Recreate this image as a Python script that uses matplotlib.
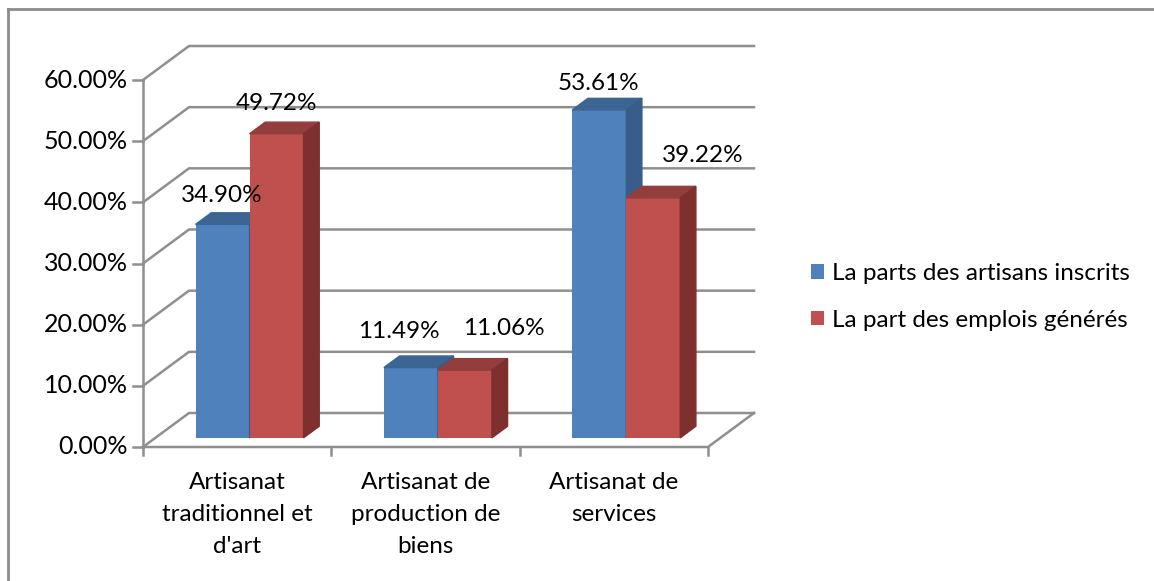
import matplotlib
matplotlib.use("Agg")
import matplotlib.pyplot as plt
from matplotlib.patches import Polygon
from matplotlib.lines import Line2D

# Data
categories = ["Artisanat\ntraditionnel et\nd'art", "Artisanat de\nproduction de\nbiens", "Artisanat de\nservices"]
series_names = ["La parts des artisans inscrits", "La part des emplois générés"]
inscrits = [34.90, 11.49, 53.61]
emplois = [49.72, 11.06, 39.22]
y_ticks = [0, 10, 20, 30, 40, 50, 60]

plt.rcParams['font.family'] = ['Lato', 'DejaVu Sans']
FS = 17.5

W, H = 1154, 581
fig = plt.figure(figsize=(W / 100, H / 100), dpi=100)

# pseudo-3D geometry (pixels)
x0, y0 = 143, 447          # front-left corner of the floor
px_cat = 565 / 3           # pixels per category
px_pct = 367 / 60          # pixels per percent
depth_x, depth_y = 46, 34  # full depth offset
DX = depth_x / px_cat
DY = depth_y / px_pct
f0, f1 = 0.27, 0.61        # bar front / back depth
bar_w = 54 / px_cat

ax = fig.add_axes([x0 / W, (H - y0) / H,
                   (3 * px_cat + depth_x) / W, (60 * px_pct + depth_y) / H])
ax.set_xlim(0, 3 + DX)
ax.set_ylim(0, 60 + DY)
ax.axis('off')

grid_kw = dict(color='#8f8f8f', lw=1.8, clip_on=False, zorder=1)

# walls, gridlines
for v in y_ticks:
    ax.plot([0, DX, 3 + DX], [v, v + DY, v + DY], **grid_kw)
ax.plot([0, 3, 3 + DX], [0, 0, DY], **grid_kw)
ax.plot([0, 0], [0, 60], **grid_kw)

# tick marks
tick_x = 10 / px_cat
for v in y_ticks:
    ax.plot([-tick_x, 0], [v, v], **grid_kw)
    ax.annotate(f"{v:.2f}%", xy=(0, v), xytext=(-15, 0), textcoords='offset pixels',
                ha='right', va='center', fontsize=18, color='black')
for i in range(4):
    ax.plot([i, i], [0, -8 / px_pct], **grid_kw)

for i, lab in enumerate(categories):
    ax.annotate(lab, xy=(i + 0.5, 0), xytext=(0, -25), textcoords='offset pixels',
                ha='center', va='top', fontsize=FS, linespacing=1.66)

# bars
colors = [('#4F81BD', '#3C6594', '#385D8A'), ('#C0504D', '#933E3C', '#7D302E')]
label_dx = [[-1, -12, -1], [0, 39, 49]]
label_dy = [[29, 36, 26], [30, 42, 42]]
dDX = (f1 - f0) * DX
dDY = (f1 - f0) * DY

for i in range(len(categories)):
    for s, vals in enumerate([inscrits, emplois]):
        front, top, side = colors[s]
        c = i + 0.5 + f0 * DX + (s - 0.5) * bar_w
        base = f0 * DY
        v = vals[i]
        ax.bar(c, v, width=bar_w, bottom=base, color=front, zorder=2 + i * 2 + s * 0.1,
               label=series_names[s] if i == 0 else None)
        xl, xr = c - bar_w / 2, c + bar_w / 2
        ax.add_patch(Polygon([(xl, base + v), (xr, base + v), (xr + dDX, base + v + dDY),
                              (xl + dDX, base + v + dDY)], closed=True, color=top,
                             zorder=2 + i * 2 + s * 0.1 + 0.01))
        ax.add_patch(Polygon([(xr, base), (xr, base + v), (xr + dDX, base + v + dDY),
                              (xr + dDX, base + dDY)], closed=True, color=side,
                             zorder=2 + i * 2 + s * 0.1 + 0.01))
        ax.annotate(f"{v:.2f}%", xy=(c, base + v),
                    xytext=(label_dx[s][i], label_dy[s][i]), textcoords='offset pixels',
                    ha='center', va='center', fontsize=FS, zorder=10)

ax.legend(loc='center left', bbox_to_anchor=(789 / W, 1 - 297 / H),
          bbox_transform=fig.transFigure, frameon=False, fontsize=FS,
          handlelength=0.55, handleheight=0.55, handletextpad=0.3, labelspacing=1.05)

# chart border
fig.add_artist(Line2D([8 / W, 8 / W], [0, 1 - 9 / H], color='#8c8c8c', lw=2))
fig.add_artist(Line2D([8 / W, 1], [1 - 9 / H, 1 - 9 / H], color='#8c8c8c', lw=2))

fig.savefig("out.png", dpi=100)
